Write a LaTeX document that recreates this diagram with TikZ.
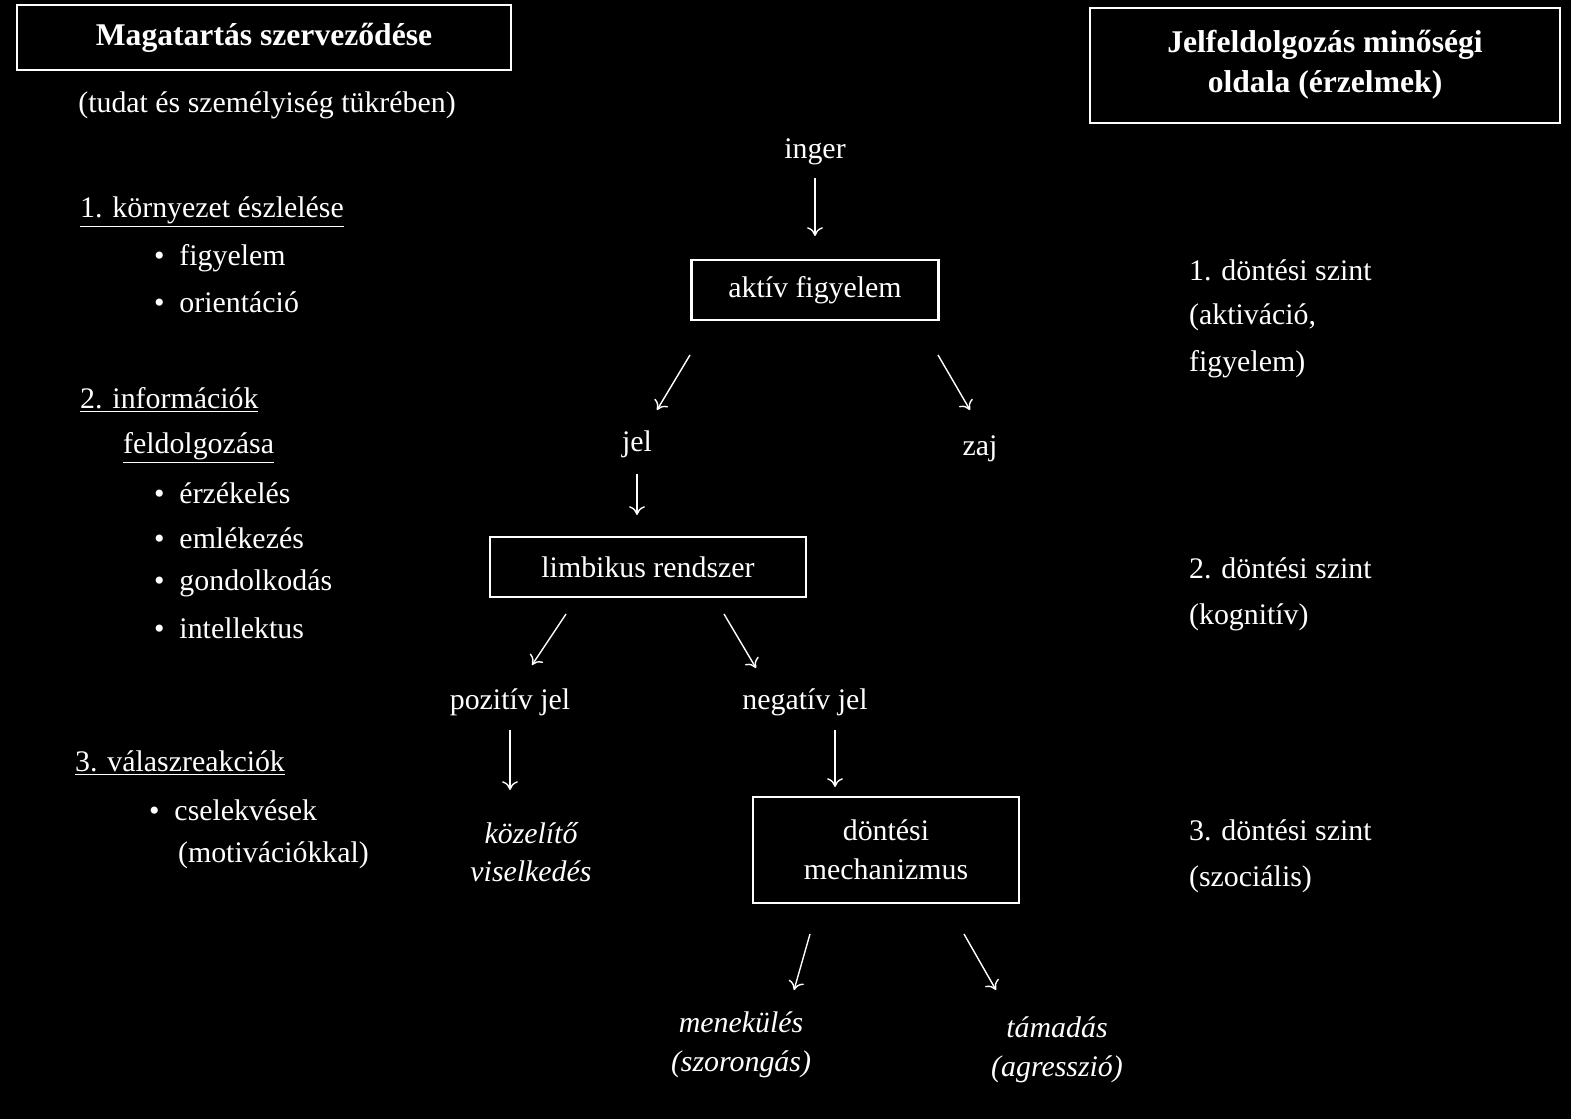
\documentclass[tikz,border=0pt]{standalone}
\usepackage{fontspec}
\setmainfont{Liberation Serif}
\usetikzlibrary{arrows.meta}
\tikzset{
  txt/.style={text=white, font=\fontsize{17}{22}\selectfont, inner sep=1pt},
  lft/.style={txt, anchor=west},
  box/.style={txt, draw=white, line width=1.2pt, inner sep=8pt, align=center},
  arr/.style={white, line width=0.8pt, -{To[length=5pt,width=9pt]}}
}
\begin{document}
\begin{tikzpicture}[x=0.02cm,y=-0.02cm]
\fill[black] (0,0) rectangle (1571,1119);
\useasboundingbox (0,0) rectangle (1571,1119);

% titles
\draw[white, line width=1.5pt] (17,5) rectangle (511,70);
\node[txt, font=\fontsize{18}{22}\selectfont\bfseries] (titleL) at (264,38) {Magatartás szerveződése};
\node[txt] (sub) at (267,105) {(tudat és személyiség tükrében)};
\draw[white, line width=1.5pt] (1090,8) rectangle (1560,123);
\node[txt, font=\fontsize{18}{23}\selectfont\bfseries, align=center] (titleR) at (1325,65) {Jelfeldolgozás minőségi\\oldala (érzelmek)};

% flow
\node[txt] (inger) at (815,152) {inger};
\node[box, minimum width=247*0.02cm, minimum height=60*0.02cm] (aktiv) at (815,290) {aktív figyelem};
\node[txt] (jel) at (637,444) {jel};
\node[txt] (zaj) at (980,449) {zaj};
\node[box, minimum width=316*0.02cm, minimum height=60*0.02cm] (limb) at (648,567) {limbikus rendszer};
\node[txt] (poz) at (510,702) {pozitív jel};
\node[txt] (neg) at (805,702) {negatív jel};
\node[txt, font=\fontsize{17}{22}\selectfont\itshape, align=center] (kozel) at (531,852) {közelítő\\viselkedés};
\node[box, minimum width=266*0.02cm, minimum height=106*0.02cm] (dont) at (886,850) {döntési\\mechanizmus};
\node[txt, font=\fontsize{17}{22}\selectfont\itshape, align=center] (menek) at (741,1045) {menekülés\\(szorongás)};
\node[txt, font=\fontsize{17}{22}\selectfont\itshape, align=center] (tamad) at (1057,1050) {támadás\\(agresszió)};

\draw[arr] (815,178) -- (815,236);
\draw[arr] (690,355) -- (657,410);
\draw[arr] (938,355) -- (970,410);
\draw[arr] (637,474) -- (637,515);
\draw[arr] (566,614) -- (532,665);
\draw[arr] (724,614) -- (756,668);
\draw[arr] (510,730) -- (510,790);
\draw[arr] (835,730) -- (835,787);
\draw[arr] (810,934) -- (794,990);
\draw[arr] (964,934) -- (996,990);

% left list
\node[lft] (k1) at (78,212) {\underline{1. környezet észlelése}};
\foreach \t/\y in {figyelem/258, orientáció/302, érzékelés/493, emlékezés/538, gondolkodás/583, intellektus/628}
  \node[lft] at (152,\y) {•\hspace{0.5em}\t};
\node[lft] (k2) at (78,400) {\underline{2. információk}};
\node[lft] (k2b) at (121,448) {\underline{feldolgozása}};
\node[lft] (k3) at (73,763) {\underline{3. válaszreakciók}};
\node[lft] (c1) at (147,810) {•\hspace{0.5em}cselekvések};
\node[lft] (c2) at (176,855) {(motivációkkal)};

% right levels
\node[lft] (d1) at (1187,270) {1. döntési szint};
\node[lft] at (1187,317) {(aktiváció,};
\node[lft] at (1187,364) {figyelem)};
\node[lft] (d2) at (1187,568) {2. döntési szint};
\node[lft] at (1187,617) {(kognitív)};
\node[lft] (d3) at (1187,830) {3. döntési szint};
\node[lft] at (1187,879) {(szociális)};
\end{tikzpicture}
\end{document}
